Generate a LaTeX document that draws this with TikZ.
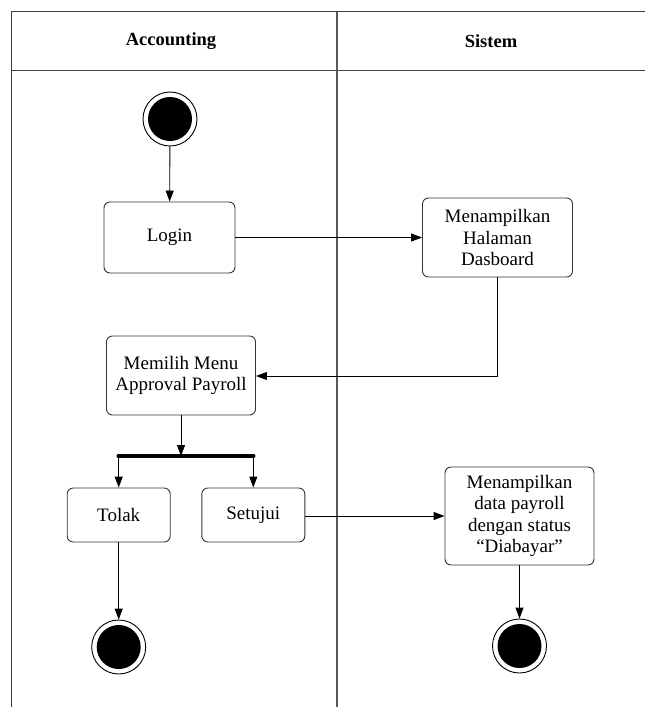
\documentclass[tikz,border=0pt]{standalone}
\usepackage{fontspec}
\setmainfont{Liberation Serif}
\usetikzlibrary{arrows.meta}
\begin{document}
\begin{tikzpicture}[x=1pt,y=-1pt,
  font=\fontsize{19}{21.5}\selectfont,
  lane/.style={draw=black!75,line width=1.1pt},
  head/.style={font=\fontsize{18.5}{21.5}\selectfont\bfseries},
  act/.style={draw=black!80,line width=0.9pt,rounded corners=6pt,align=center,inner sep=2pt},
  startnode/.style={circle,draw=black,line width=0.9pt,fill=white,minimum size=54pt,inner sep=0pt,
    path picture={\fill[black] (path picture bounding box.center) circle (22pt);}},
  flow/.style={draw=black,line width=0.9pt,-{Triangle[length=11pt,width=8pt]}},
  bar/.style={draw=black,line width=4.5pt,line cap=round}]
\useasboundingbox (0,0) rectangle (645,707);
% swimlane frame
\draw[lane] (645,11.5) -- (11.5,11.5) -- (11.5,707);
\draw[lane] (11.5,70.5) -- (645,70.5);
\draw[lane,draw=black!65] (337,11.5) -- (337,707);
\node[head] (hAcc) at (171,41) {Accounting};
\node[head] (hSis) at (491,41) {Sistem};
% activity nodes
\node[startnode] (start) at (170,119) {};
\node[act,minimum width=131pt,minimum height=71pt] (login) at (169.5,237.5) {Login};
\node[act,minimum width=150pt,minimum height=79pt] (dash) at (497.5,237.5) {Menampilkan\\Halaman\\Dasboard};
\node[act,minimum width=149pt,minimum height=79pt] (menu) at (181,375.5) {Memilih Menu\\Approval Payroll};
\coordinate (barL) at (118.7,456);
\coordinate (barR) at (253.3,456);
\coordinate (barM) at (181,456);
\node[act,minimum width=103pt,minimum height=54pt] (tolak) at (118.7,515) {Tolak};
\node[act,minimum width=103pt,minimum height=54pt] (setuju) at (253.3,515) {Setujui};
\node[act,minimum width=149pt,minimum height=98pt] (data) at (519.5,516) {Menampilkan\\data payroll\\dengan status\\``Diabayar''};
\node[startnode] (end1) at (118.7,647) {};
\node[startnode] (end2) at (519.5,646) {};
\coordinate (bend) at (497.5,376);
% connectors
\draw[flow] (start) -- (login);
\draw[flow] (login) -- (dash);
\draw[flow] (dash.south) -- (bend) -- (menu.east |- bend);
\draw[flow] (menu) -- (barM);
\draw[bar] (barL) -- (barR);
\draw[flow] (barL) -- (tolak);
\draw[flow] (barR) -- (setuju);
\draw[flow] (setuju.east |- data) -- (data);
\draw[flow] (tolak) -- (end1);
\draw[flow] (data) -- (end2);
\end{tikzpicture}
\end{document}
